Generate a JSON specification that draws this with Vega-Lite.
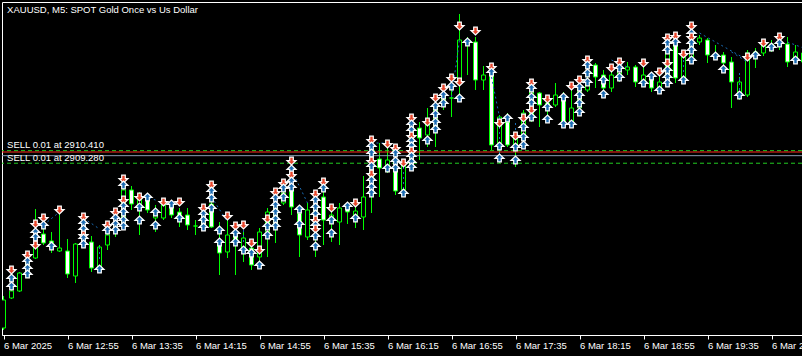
{
  "$schema": "https://vega.github.io/schema/vega-lite/v6.json",
  "width": 800,
  "height": 333,
  "autosize": "none",
  "padding": {"left": 2, "top": 2, "right": 0, "bottom": 21},
  "background": "#000000",
  "config": {
    "view": {"stroke": "#ffffff", "strokeWidth": 1},
    "text": {"font": "Liberation Sans", "fontSize": 9.5, "color": "#ffffff"},
    "axisX": {
      "grid": false,
      "domainColor": "#ffffff", "domainWidth": 1,
      "tickColor": "#ffffff", "tickSize": 4, "tickWidth": 1,
      "labelColor": "#ffffff", "labelFont": "Liberation Sans", "labelFontSize": 9.5,
      "labelAlign": "left", "labelBaseline": "top", "labelPadding": 1,
      "labelOverlap": false, "labelFlush": false, "labelBound": false
    }
  },
  "datasets": {
    "candles": [
      {"i":0,"open":2894.45,"high":2897.33,"low":2894.27,"close":2896.97},
      {"i":1,"open":2897.15,"high":2898.32,"low":2897.06,"close":2897.78},
      {"i":2,"open":2897.78,"high":2899.49,"low":2897.69,"close":2899.40},
      {"i":3,"open":2899.13,"high":2901.02,"low":2898.95,"close":2900.39},
      {"i":4,"open":2900.75,"high":2905.16,"low":2900.66,"close":2901.74},
      {"i":5,"open":2902.91,"high":2904.62,"low":2901.92,"close":2902.10},
      {"i":6,"open":2902.28,"high":2903.09,"low":2901.20,"close":2902.10},
      {"i":7,"open":2901.38,"high":2904.98,"low":2901.29,"close":2901.65},
      {"i":8,"open":2901.38,"high":2902.46,"low":2898.95,"close":2899.31},
      {"i":9,"open":2899.13,"high":2902.10,"low":2898.50,"close":2902.01},
      {"i":10,"open":2903.09,"high":2904.62,"low":2901.65,"close":2902.01},
      {"i":11,"open":2902.19,"high":2902.73,"low":2899.49,"close":2899.85},
      {"i":12,"open":2899.67,"high":2901.92,"low":2899.49,"close":2901.74},
      {"i":13,"open":2901.92,"high":2903.27,"low":2901.47,"close":2902.82},
      {"i":14,"open":2903.09,"high":2905.07,"low":2902.64,"close":2903.99},
      {"i":15,"open":2903.72,"high":2907.32,"low":2903.45,"close":2906.87},
      {"i":16,"open":2906.87,"high":2907.23,"low":2905.07,"close":2905.61},
      {"i":17,"open":2905.25,"high":2906.69,"low":2902.82,"close":2906.33},
      {"i":18,"open":2906.15,"high":2906.60,"low":2904.80,"close":2905.07},
      {"i":19,"open":2904.35,"high":2905.52,"low":2903.09,"close":2904.71},
      {"i":20,"open":2904.35,"high":2905.79,"low":2904.17,"close":2905.52},
      {"i":21,"open":2905.52,"high":2905.70,"low":2904.35,"close":2904.62},
      {"i":22,"open":2904.89,"high":2905.25,"low":2903.54,"close":2904.35},
      {"i":23,"open":2904.62,"high":2905.25,"low":2903.27,"close":2903.72},
      {"i":24,"open":2903.63,"high":2904.17,"low":2902.82,"close":2903.63},
      {"i":25,"open":2904.89,"high":2905.52,"low":2903.27,"close":2903.63},
      {"i":26,"open":2905.61,"high":2907.50,"low":2903.45,"close":2903.54},
      {"i":27,"open":2902.19,"high":2903.99,"low":2899.22,"close":2901.20},
      {"i":28,"open":2901.29,"high":2904.17,"low":2900.75,"close":2902.82},
      {"i":29,"open":2902.73,"high":2903.72,"low":2899.22,"close":2902.19},
      {"i":30,"open":2901.47,"high":2903.09,"low":2900.39,"close":2902.55},
      {"i":31,"open":2901.65,"high":2902.37,"low":2899.67,"close":2900.12},
      {"i":32,"open":2900.84,"high":2903.45,"low":2900.12,"close":2903.09},
      {"i":33,"open":2903.09,"high":2905.25,"low":2900.84,"close":2904.89},
      {"i":34,"open":2903.45,"high":2906.87,"low":2902.10,"close":2905.52},
      {"i":35,"open":2905.70,"high":2907.32,"low":2905.52,"close":2906.60},
      {"i":36,"open":2906.87,"high":2909.57,"low":2904.62,"close":2905.34},
      {"i":37,"open":2904.80,"high":2905.52,"low":2900.84,"close":2902.82},
      {"i":38,"open":2902.64,"high":2905.70,"low":2902.37,"close":2905.07},
      {"i":39,"open":2905.52,"high":2906.69,"low":2900.84,"close":2903.45},
      {"i":40,"open":2906.24,"high":2907.77,"low":2901.92,"close":2904.17},
      {"i":41,"open":2903.99,"high":2905.25,"low":2902.19,"close":2904.62},
      {"i":42,"open":2903.99,"high":2905.70,"low":2901.92,"close":2905.25},
      {"i":43,"open":2905.34,"high":2905.79,"low":2903.81,"close":2904.89},
      {"i":44,"open":2904.44,"high":2905.34,"low":2903.45,"close":2904.98},
      {"i":45,"open":2904.44,"high":2908.13,"low":2903.27,"close":2906.24},
      {"i":46,"open":2906.42,"high":2911.37,"low":2904.80,"close":2908.85},
      {"i":47,"open":2909.66,"high":2911.10,"low":2906.24,"close":2908.85},
      {"i":48,"open":2908.67,"high":2910.65,"low":2908.40,"close":2909.57},
      {"i":49,"open":2908.85,"high":2910.92,"low":2906.42,"close":2906.78},
      {"i":50,"open":2906.87,"high":2909.57,"low":2906.42,"close":2909.12},
      {"i":51,"open":2909.12,"high":2913.44,"low":2908.67,"close":2912.72},
      {"i":52,"open":2912.45,"high":2912.99,"low":2909.57,"close":2911.55},
      {"i":53,"open":2911.82,"high":2914.25,"low":2910.74,"close":2912.81},
      {"i":54,"open":2912.45,"high":2915.15,"low":2910.74,"close":2914.52},
      {"i":55,"open":2914.52,"high":2916.05,"low":2914.07,"close":2915.42},
      {"i":56,"open":2915.15,"high":2916.77,"low":2913.44,"close":2915.15},
      {"i":57,"open":2916.59,"high":2922.71,"low":2914.97,"close":2920.37},
      {"i":58,"open":2920.37,"high":2920.64,"low":2917.22,"close":2919.92},
      {"i":59,"open":2920.19,"high":2920.64,"low":2915.87,"close":2916.77},
      {"i":60,"open":2916.77,"high":2918.03,"low":2915.87,"close":2917.22},
      {"i":61,"open":2917.85,"high":2918.21,"low":2910.47,"close":2910.92},
      {"i":62,"open":2911.10,"high":2913.62,"low":2909.30,"close":2913.44},
      {"i":63,"open":2912.99,"high":2913.80,"low":2910.74,"close":2910.92},
      {"i":64,"open":2910.92,"high":2912.09,"low":2908.94,"close":2911.55},
      {"i":65,"open":2911.37,"high":2914.07,"low":2910.92,"close":2913.80},
      {"i":66,"open":2913.62,"high":2916.77,"low":2912.99,"close":2915.69},
      {"i":67,"open":2915.60,"high":2915.69,"low":2912.54,"close":2914.52},
      {"i":68,"open":2914.70,"high":2915.06,"low":2913.62,"close":2914.25},
      {"i":69,"open":2914.52,"high":2916.50,"low":2914.34,"close":2915.42},
      {"i":70,"open":2915.15,"high":2915.69,"low":2912.54,"close":2912.99},
      {"i":71,"open":2912.90,"high":2916.05,"low":2912.54,"close":2914.25},
      {"i":72,"open":2914.25,"high":2916.95,"low":2913.89,"close":2916.14},
      {"i":73,"open":2915.87,"high":2918.57,"low":2915.69,"close":2916.32},
      {"i":74,"open":2918.12,"high":2918.30,"low":2916.05,"close":2917.04},
      {"i":75,"open":2917.22,"high":2917.67,"low":2915.42,"close":2916.05},
      {"i":76,"open":2916.05,"high":2917.85,"low":2915.69,"close":2917.22},
      {"i":77,"open":2916.95,"high":2918.12,"low":2916.59,"close":2917.67},
      {"i":78,"open":2917.67,"high":2918.39,"low":2917.22,"close":2917.94},
      {"i":79,"open":2917.94,"high":2918.12,"low":2916.14,"close":2916.59},
      {"i":80,"open":2916.59,"high":2918.03,"low":2916.14,"close":2917.22},
      {"i":81,"open":2917.04,"high":2917.49,"low":2915.69,"close":2916.05},
      {"i":82,"open":2915.87,"high":2917.22,"low":2915.69,"close":2916.59},
      {"i":83,"open":2916.59,"high":2920.55,"low":2916.41,"close":2919.65},
      {"i":84,"open":2919.92,"high":2920.82,"low":2916.50,"close":2916.95},
      {"i":85,"open":2916.95,"high":2919.02,"low":2916.59,"close":2918.84},
      {"i":86,"open":2918.84,"high":2921.27,"low":2918.39,"close":2920.19},
      {"i":87,"open":2920.19,"high":2920.82,"low":2919.92,"close":2920.55},
      {"i":88,"open":2920.37,"high":2920.55,"low":2918.30,"close":2919.02},
      {"i":89,"open":2919.11,"high":2919.92,"low":2918.57,"close":2918.84},
      {"i":90,"open":2919.02,"high":2919.29,"low":2917.94,"close":2918.30},
      {"i":91,"open":2918.39,"high":2918.84,"low":2914.25,"close":2916.59},
      {"i":92,"open":2915.42,"high":2917.04,"low":2914.97,"close":2916.59},
      {"i":93,"open":2915.42,"high":2919.47,"low":2915.24,"close":2919.20},
      {"i":94,"open":2919.29,"high":2919.65,"low":2917.85,"close":2919.02},
      {"i":95,"open":2919.20,"high":2920.19,"low":2918.93,"close":2919.92},
      {"i":96,"open":2919.74,"high":2920.37,"low":2919.29,"close":2920.01},
      {"i":97,"open":2920.01,"high":2920.55,"low":2919.47,"close":2919.83},
      {"i":98,"open":2920.01,"high":2920.64,"low":2917.94,"close":2918.39},
      {"i":99,"open":2918.75,"high":2919.92,"low":2918.39,"close":2919.29},
      {"i":100,"open":2919.20,"high":2919.65,"low":2918.03,"close":2918.39}
    ],
    "deals": [
      {"i":1,"price":2899.67,"side":"sell"},{"i":1,"price":2898.95,"side":"buy"},{"i":1,"price":2898.23,"side":"buy"},
      {"i":3,"price":2901.02,"side":"sell"},{"i":3,"price":2900.48,"side":"buy"},{"i":3,"price":2899.85,"side":"buy"},{"i":3,"price":2899.31,"side":"buy"},
      {"i":4,"price":2903.81,"side":"sell"},{"i":4,"price":2903.09,"side":"buy"},{"i":4,"price":2902.64,"side":"buy"},{"i":4,"price":2901.92,"side":"sell"},
      {"i":5,"price":2904.35,"side":"sell"},{"i":5,"price":2903.72,"side":"buy"},
      {"i":6,"price":2901.83,"side":"buy"},
      {"i":7,"price":2905.07,"side":"sell"},
      {"i":10,"price":2904.44,"side":"sell"},{"i":10,"price":2903.90,"side":"buy"},{"i":10,"price":2903.36,"side":"buy"},{"i":10,"price":2902.82,"side":"sell"},{"i":10,"price":2902.55,"side":"buy"},{"i":10,"price":2902.01,"side":"buy"},
      {"i":12,"price":2899.76,"side":"buy"},
      {"i":13,"price":2903.72,"side":"sell"},{"i":13,"price":2903.27,"side":"buy"},
      {"i":14,"price":2904.89,"side":"sell"},{"i":14,"price":2904.35,"side":"buy"},{"i":14,"price":2903.81,"side":"buy"},{"i":14,"price":2903.27,"side":"buy"},
      {"i":15,"price":2907.86,"side":"sell"},{"i":15,"price":2907.32,"side":"buy"},{"i":15,"price":2905.97,"side":"sell"},{"i":15,"price":2905.43,"side":"buy"},{"i":15,"price":2904.89,"side":"buy"},{"i":15,"price":2904.17,"side":"buy"},{"i":15,"price":2903.63,"side":"buy"},
      {"i":17,"price":2906.24,"side":"sell"},{"i":17,"price":2905.34,"side":"buy"},{"i":17,"price":2904.17,"side":"buy"},
      {"i":18,"price":2906.24,"side":"buy"},
      {"i":19,"price":2904.89,"side":"buy"},{"i":19,"price":2903.72,"side":"buy"},
      {"i":20,"price":2905.79,"side":"sell"},
      {"i":21,"price":2905.61,"side":"buy"},
      {"i":22,"price":2905.79,"side":"sell"},{"i":22,"price":2904.35,"side":"buy"},
      {"i":25,"price":2905.25,"side":"sell"},{"i":25,"price":2904.71,"side":"buy"},{"i":25,"price":2904.17,"side":"buy"},{"i":25,"price":2903.54,"side":"buy"},
      {"i":26,"price":2907.32,"side":"sell"},{"i":26,"price":2906.78,"side":"buy"},{"i":26,"price":2906.15,"side":"buy"},{"i":26,"price":2905.25,"side":"buy"},
      {"i":27,"price":2903.27,"side":"buy"},{"i":27,"price":2902.19,"side":"buy"},
      {"i":28,"price":2904.53,"side":"sell"},
      {"i":29,"price":2903.63,"side":"sell"},{"i":29,"price":2903.00,"side":"buy"},{"i":29,"price":2902.19,"side":"buy"},
      {"i":30,"price":2903.72,"side":"sell"},{"i":30,"price":2901.47,"side":"buy"},
      {"i":31,"price":2902.10,"side":"sell"},{"i":31,"price":2901.20,"side":"buy"},
      {"i":32,"price":2901.47,"side":"sell"},{"i":32,"price":2900.12,"side":"buy"},
      {"i":33,"price":2904.26,"side":"sell"},{"i":33,"price":2903.63,"side":"buy"},{"i":33,"price":2902.82,"side":"buy"},
      {"i":34,"price":2906.69,"side":"sell"},{"i":34,"price":2906.15,"side":"buy"},{"i":34,"price":2905.52,"side":"buy"},{"i":34,"price":2904.89,"side":"buy"},{"i":34,"price":2904.26,"side":"buy"},{"i":34,"price":2903.63,"side":"buy"},
      {"i":35,"price":2907.50,"side":"sell"},{"i":35,"price":2907.05,"side":"buy"},{"i":35,"price":2906.24,"side":"buy"},
      {"i":36,"price":2909.48,"side":"sell"},{"i":36,"price":2908.76,"side":"buy"},{"i":36,"price":2908.22,"side":"sell"},{"i":36,"price":2907.68,"side":"buy"},{"i":36,"price":2907.14,"side":"buy"},
      {"i":37,"price":2905.16,"side":"buy"},{"i":37,"price":2903.81,"side":"buy"},
      {"i":39,"price":2906.51,"side":"sell"},{"i":39,"price":2905.97,"side":"buy"},{"i":39,"price":2905.34,"side":"buy"},{"i":39,"price":2904.71,"side":"buy"},{"i":39,"price":2904.17,"side":"sell"},{"i":39,"price":2903.72,"side":"buy"},{"i":39,"price":2903.36,"side":"sell"},{"i":39,"price":2902.73,"side":"buy"},{"i":39,"price":2901.83,"side":"buy"},
      {"i":40,"price":2907.59,"side":"sell"},{"i":40,"price":2907.05,"side":"buy"},
      {"i":41,"price":2905.25,"side":"sell"},{"i":41,"price":2904.17,"side":"buy"},{"i":41,"price":2903.00,"side":"buy"},
      {"i":43,"price":2905.43,"side":"buy"},
      {"i":44,"price":2905.70,"side":"sell"},{"i":44,"price":2904.35,"side":"buy"},
      {"i":46,"price":2911.37,"side":"sell"},{"i":46,"price":2910.83,"side":"buy"},{"i":46,"price":2910.20,"side":"buy"},{"i":46,"price":2909.48,"side":"sell"},{"i":46,"price":2909.03,"side":"buy"},{"i":46,"price":2908.31,"side":"sell"},{"i":46,"price":2907.77,"side":"buy"},{"i":46,"price":2907.14,"side":"buy"},{"i":46,"price":2906.60,"side":"buy"},
      {"i":48,"price":2911.01,"side":"sell"},{"i":48,"price":2908.85,"side":"buy"},
      {"i":49,"price":2910.65,"side":"sell"},{"i":49,"price":2910.20,"side":"buy"},{"i":49,"price":2909.48,"side":"buy"},{"i":49,"price":2908.85,"side":"buy"},
      {"i":50,"price":2909.30,"side":"sell"},{"i":50,"price":2906.60,"side":"buy"},
      {"i":51,"price":2913.35,"side":"sell"},{"i":51,"price":2912.81,"side":"buy"},{"i":51,"price":2912.27,"side":"buy"},{"i":51,"price":2911.73,"side":"sell"},{"i":51,"price":2911.28,"side":"buy"},{"i":51,"price":2910.83,"side":"buy"},{"i":51,"price":2910.38,"side":"sell"},{"i":51,"price":2909.93,"side":"buy"},{"i":51,"price":2909.39,"side":"buy"},{"i":51,"price":2908.94,"side":"buy"},
      {"i":53,"price":2912.99,"side":"sell"},{"i":53,"price":2911.37,"side":"buy"},
      {"i":54,"price":2915.15,"side":"sell"},{"i":54,"price":2914.43,"side":"buy"},{"i":54,"price":2913.71,"side":"buy"},{"i":54,"price":2912.99,"side":"buy"},{"i":54,"price":2912.36,"side":"buy"},
      {"i":55,"price":2916.05,"side":"sell"},{"i":55,"price":2915.42,"side":"buy"},{"i":55,"price":2914.70,"side":"buy"},
      {"i":56,"price":2916.95,"side":"sell"},{"i":56,"price":2916.23,"side":"buy"},
      {"i":57,"price":2921.63,"side":"sell"},{"i":57,"price":2916.59,"side":"sell"},{"i":57,"price":2915.15,"side":"buy"},
      {"i":58,"price":2920.19,"side":"buy"},
      {"i":59,"price":2921.18,"side":"sell"},
      {"i":61,"price":2917.94,"side":"sell"},{"i":61,"price":2917.49,"side":"buy"},
      {"i":62,"price":2912.90,"side":"sell"},{"i":62,"price":2910.83,"side":"buy"},{"i":62,"price":2909.75,"side":"buy"},
      {"i":63,"price":2913.35,"side":"buy"},
      {"i":64,"price":2911.73,"side":"sell"},{"i":64,"price":2910.74,"side":"buy"},{"i":64,"price":2909.57,"side":"buy"},
      {"i":65,"price":2913.35,"side":"sell"},{"i":65,"price":2912.54,"side":"buy"},{"i":65,"price":2911.64,"side":"buy"},{"i":65,"price":2910.92,"side":"buy"},
      {"i":66,"price":2916.50,"side":"sell"},{"i":66,"price":2916.05,"side":"buy"},{"i":66,"price":2915.24,"side":"buy"},{"i":66,"price":2914.70,"side":"buy"},{"i":66,"price":2914.07,"side":"sell"},{"i":66,"price":2913.44,"side":"buy"},
      {"i":68,"price":2915.06,"side":"sell"},{"i":68,"price":2914.34,"side":"buy"},{"i":68,"price":2913.26,"side":"buy"},
      {"i":70,"price":2915.24,"side":"buy"},{"i":70,"price":2912.81,"side":"buy"},
      {"i":71,"price":2916.23,"side":"sell"},{"i":71,"price":2912.81,"side":"buy"},
      {"i":72,"price":2916.77,"side":"sell"},{"i":72,"price":2916.14,"side":"buy"},{"i":72,"price":2915.42,"side":"buy"},{"i":72,"price":2914.70,"side":"buy"},{"i":72,"price":2913.89,"side":"buy"},
      {"i":73,"price":2918.57,"side":"sell"},{"i":73,"price":2918.12,"side":"buy"},{"i":73,"price":2917.40,"side":"buy"},{"i":73,"price":2916.59,"side":"buy"},
      {"i":75,"price":2916.77,"side":"buy"},{"i":75,"price":2915.51,"side":"buy"},
      {"i":76,"price":2917.85,"side":"sell"},
      {"i":77,"price":2918.39,"side":"sell"},{"i":77,"price":2917.85,"side":"buy"},{"i":77,"price":2917.04,"side":"buy"},
      {"i":80,"price":2918.30,"side":"sell"},{"i":80,"price":2916.50,"side":"buy"},
      {"i":81,"price":2917.13,"side":"buy"},
      {"i":82,"price":2917.49,"side":"sell"},{"i":82,"price":2915.87,"side":"buy"},
      {"i":83,"price":2920.55,"side":"sell"},{"i":83,"price":2920.10,"side":"buy"},{"i":83,"price":2919.47,"side":"buy"},{"i":83,"price":2918.30,"side":"sell"},{"i":83,"price":2917.67,"side":"buy"},{"i":83,"price":2917.04,"side":"buy"},{"i":83,"price":2916.50,"side":"buy"},
      {"i":84,"price":2920.73,"side":"sell"},{"i":84,"price":2920.19,"side":"buy"},
      {"i":85,"price":2919.11,"side":"sell"},{"i":85,"price":2916.77,"side":"buy"},
      {"i":86,"price":2921.63,"side":"sell"},{"i":86,"price":2921.00,"side":"buy"},{"i":86,"price":2920.64,"side":"sell"},{"i":86,"price":2920.10,"side":"buy"},{"i":86,"price":2919.47,"side":"buy"},{"i":86,"price":2918.57,"side":"buy"},
      {"i":89,"price":2918.93,"side":"buy"},
      {"i":90,"price":2917.76,"side":"buy"},
      {"i":92,"price":2915.42,"side":"buy"},
      {"i":93,"price":2918.84,"side":"sell"},
      {"i":94,"price":2919.02,"side":"buy"},
      {"i":95,"price":2920.10,"side":"sell"},
      {"i":96,"price":2919.74,"side":"buy"},
      {"i":97,"price":2920.64,"side":"sell"},{"i":97,"price":2920.10,"side":"buy"},
      {"i":99,"price":2918.57,"side":"buy"}
    ],
    "trades": [
      {"i":5,"p":2903.72,"i2":7,"p2":2904.89},
      {"i":10,"p":2904.35,"i2":12,"p2":2903.36},
      {"i":12,"p":2901.74,"i2":12,"p2":2900.39},
      {"i":17,"p":2906.42,"i2":19,"p2":2905.97},
      {"i":26,"p":2906.24,"i2":28,"p2":2903.99},
      {"i":30,"p":2903.27,"i2":30,"p2":2902.19},
      {"i":36,"p":2908.67,"i2":38,"p2":2905.70},
      {"i":46,"p":2911.10,"i2":48,"p2":2911.10},
      {"i":50,"p":2908.94,"i2":50,"p2":2906.87},
      {"i":56,"p":2915.24,"i2":57,"p2":2920.37},
      {"i":61,"p":2917.04,"i2":62,"p2":2913.44},
      {"i":62,"p":2913.44,"i2":62,"p2":2909.57},
      {"i":64,"p":2912.90,"i2":64,"p2":2911.10},
      {"i":72,"p":2915.60,"i2":73,"p2":2917.22},
      {"i":76,"p":2918.57,"i2":78,"p2":2917.94},
      {"i":85,"p":2919.02,"i2":85,"p2":2916.77},
      {"i":87,"p":2921.00,"i2":93,"p2":2918.57},
      {"i":91,"p":2919.29,"i2":93,"p2":2918.39},
      {"i":92,"p":2917.40,"i2":92,"p2":2915.87},
      {"i":98,"p":2920.19,"i2":100,"p2":2919.65}
    ],
    "levels": [
      {"price":2910.41,"kind":"position"},
      {"price":2910.29,"kind":"ask"},
      {"price":2909.96,"kind":"bid"},
      {"price":2909.28,"kind":"position"}
    ],
    "positions": [
      {"price":2910.41,"label":"SELL 0.01 at 2910.410"},
      {"price":2909.28,"label":"SELL 0.01 at 2909.280"}
    ],
    "caption": [
      {"label":"XAUUSD, M5:  SPOT Gold Once vs Us Dollar"}
    ]
  },
  "layer": [
    {
      "data": {"name": "candles"},
      "mark": {"type": "rule", "color": "#00ff00", "strokeWidth": 1, "clip": true},
      "encoding": {
        "x": {
          "field": "i", "type": "quantitative",
          "scale": {"domain": [-0.1875, 99.8125], "nice": false, "zero": false, "padding": 0},
          "axis": {
            "title": null,
            "values": [0, 8, 16, 24, 32, 40, 48, 56, 64, 72, 80, 88, 96],
            "labelExpr": "datum.value == 0 ? '6 Mar 2025' : '6 Mar ' + floor((735 + 5 * datum.value) / 60) + ':' + ((735 + 5 * datum.value) % 60)"
          }
        },
        "y": {"field": "high", "type": "quantitative", "scale": {"domain": [2893.82, 2923.79], "nice": false, "zero": false, "padding": 0}, "axis": null},
        "y2": {"field": "low"}
      }
    },
    {
      "data": {"name": "levels"},
      "mark": {"type": "rule", "strokeWidth": 1},
      "encoding": {
        "y": {"field": "price", "type": "quantitative", "axis": null},
        "color": {"field": "kind", "type": "nominal", "scale": {"domain": ["position", "ask", "bid"], "range": ["#22cc22", "#ff2a1a", "#8a9bb0"]}, "legend": null},
        "strokeDash": {"field": "kind", "type": "nominal", "scale": {"domain": ["position", "ask", "bid"], "range": [[4, 3], [1, 0], [1, 0]]}, "legend": null}
      }
    },
    {
      "data": {"name": "positions"},
      "mark": {"type": "text", "align": "left", "baseline": "alphabetic", "dy": -2.5, "font": "Liberation Sans", "fontSize": 9.5, "color": "#ffffff"},
      "encoding": {
        "x": {"datum": 0.45, "type": "quantitative"},
        "y": {"field": "price", "type": "quantitative", "axis": null},
        "text": {"field": "label"}
      }
    },
    {
      "data": {"name": "candles"},
      "mark": {"type": "bar", "width": 4, "stroke": "#00ff00", "strokeWidth": 1, "clip": true},
      "encoding": {
        "x": {"field": "i", "type": "quantitative"},
        "y": {"field": "open", "type": "quantitative", "axis": null},
        "y2": {"field": "close"},
        "fill": {"condition": {"test": "datum.close < datum.open", "value": "#ffffff"}, "value": "#000000"}
      }
    },
    {
      "data": {"name": "trades"},
      "mark": {"type": "rule", "color": "#1a6bb3", "strokeWidth": 1, "strokeDash": [2, 3], "clip": true},
      "encoding": {
        "x": {"field": "i", "type": "quantitative"},
        "x2": {"field": "i2"},
        "y": {"field": "p", "type": "quantitative", "axis": null},
        "y2": {"field": "p2"}
      }
    },
    {
      "data": {"name": "deals"},
      "mark": {"type": "point", "filled": true, "opacity": 1, "stroke": "#ffffff", "strokeWidth": 1.2, "size": 81, "clip": true},
      "encoding": {
        "x": {"field": "i", "type": "quantitative"},
        "y": {"field": "price", "type": "quantitative", "axis": null},
        "shape": {"field": "side", "type": "nominal", "scale": {"domain": ["buy", "sell"], "range": ["M-0.4,0.85L0.4,0.85L0.4,0.1L1,0.1L0,-0.85L-1,0.1L-0.4,0.1Z", "M-0.4,-0.85L0.4,-0.85L0.4,-0.1L1,-0.1L0,0.85L-1,-0.1L-0.4,-0.1Z"]}, "legend": null},
        "fill": {"field": "side", "type": "nominal", "scale": {"domain": ["buy", "sell"], "range": ["#1a6bb3", "#e8462b"]}, "legend": null}
      }
    },
    {
      "data": {"name": "caption"},
      "mark": {"type": "text", "align": "left", "baseline": "alphabetic", "dy": 11, "font": "Liberation Sans", "fontSize": 9.5, "color": "#ffffff"},
      "encoding": {
        "x": {"datum": 0.45, "type": "quantitative"},
        "y": {"datum": 2923.79, "type": "quantitative", "axis": null},
        "text": {"field": "label"}
      }
    }
  ]
}
